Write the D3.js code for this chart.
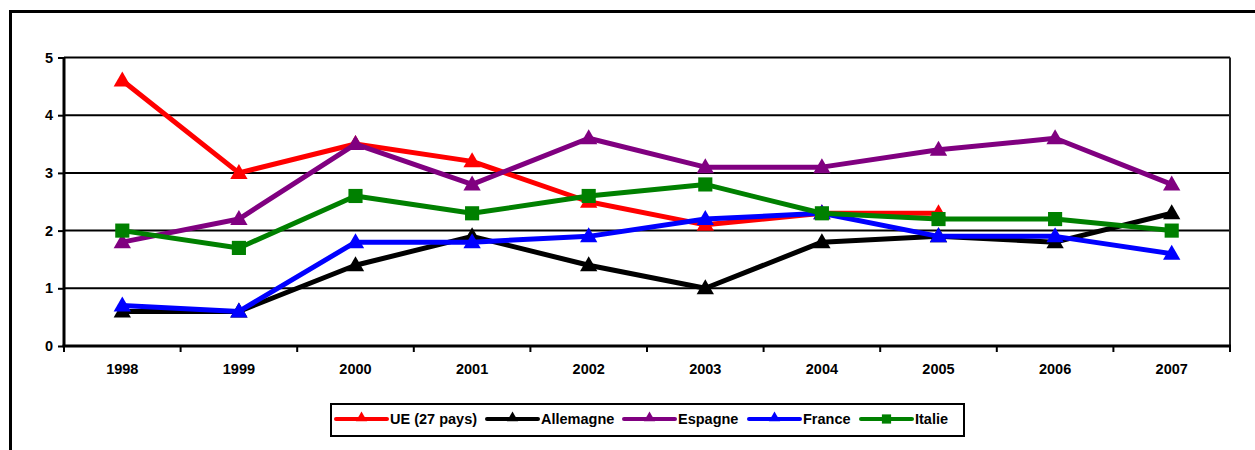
<!DOCTYPE html>
<html>
<head>
<meta charset="utf-8">
<script src="https://cdn.jsdelivr.net/npm/d3@7"></script>
<style>
  html, body { margin: 0; padding: 0; background: #fff; }
  svg { display: block; font-family: Arial, "Liberation Sans", sans-serif; }
</style>
</head>
<body>
<svg id="chart" width="1255" height="450"></svg>
<script>
// Années et séries (taux annuels)
const years = ["1998", "1999", "2000", "2001", "2002", "2003", "2004", "2005", "2006", "2007"];
const ue        = [4.6, 3.0, 3.5, 3.2, 2.5, 2.1, 2.3, 2.3, null, null];
const allemagne = [0.6, 0.6, 1.4, 1.9, 1.4, 1.0, 1.8, 1.9, 1.8, 2.3];
const espagne   = [1.8, 2.2, 3.5, 2.8, 3.6, 3.1, 3.1, 3.4, 3.6, 2.8];
const france    = [0.7, 0.6, 1.8, 1.8, 1.9, 2.2, 2.3, 1.9, 1.9, 1.6];
const italie    = [2.0, 1.7, 2.6, 2.3, 2.6, 2.8, 2.3, 2.2, 2.2, 2.0];
const yTicks    = [0, 1, 2, 3, 4, 5];

const series = [
  { name: "UE (27 pays)", values: ue,        color: "#ff0000", symbol: "triangle" },
  { name: "Allemagne",    values: allemagne, color: "#000000", symbol: "triangle" },
  { name: "Espagne",      values: espagne,   color: "#800080", symbol: "triangle" },
  { name: "France",       values: france,    color: "#0000ff", symbol: "triangle" },
  { name: "Italie",       values: italie,    color: "#008000", symbol: "square" }
];

const FONT = 14.5;
const svg = d3.select("#chart");

// Cadre extérieur
svg.append("rect")
  .attr("x", 10.5).attr("y", 11.5)
  .attr("width", 1260).attr("height", 460)
  .attr("fill", "#fff").attr("stroke", "#000").attr("stroke-width", 3);

const plot = { left: 64, right: 1230, top: 57.5, bottom: 346 };

const x = d3.scaleBand().domain(years).range([plot.left, plot.right]);
const y = d3.scaleLinear().domain([0, 5]).range([plot.bottom, plot.top]);

// Lignes de quadrillage horizontales
svg.append("g")
  .selectAll("line")
  .data(yTicks.filter(d => d > 0))
  .join("line")
  .attr("x1", plot.left).attr("x2", plot.right)
  .attr("y1", d => y(d)).attr("y2", d => y(d))
  .attr("stroke", "#000").attr("stroke-width", 2);

// Bord droit de la zone de tracé
svg.append("line")
  .attr("x1", plot.right).attr("x2", plot.right)
  .attr("y1", plot.top).attr("y2", plot.bottom)
  .attr("stroke", "#222").attr("stroke-width", 2);

// Axe Y
const yAxis = svg.append("g")
  .attr("transform", `translate(${plot.left},0)`)
  .call(d3.axisLeft(y).tickValues(yTicks).tickFormat(d3.format("d")).tickSize(6).tickPadding(5));
yAxis.select(".domain").attr("stroke", "#000").attr("stroke-width", 3)
  .attr("d", `M0,${plot.top}V${plot.bottom}`);
yAxis.selectAll(".tick line").attr("stroke", "#000").attr("stroke-width", 2);
yAxis.selectAll(".tick text")
  .attr("font-size", FONT).attr("font-weight", "bold").attr("fill", "#000")
  .attr("font-family", "Arial, 'Liberation Sans', sans-serif");

// Axe X avec graduations aux limites des catégories
const xAxis = svg.append("g")
  .attr("transform", `translate(0,${plot.bottom})`);
xAxis.append("line")
  .attr("x1", plot.left - 1.5).attr("x2", plot.right + 1)
  .attr("stroke", "#000").attr("stroke-width", 3);
xAxis.selectAll("line.tick")
  .data(years.concat(["end"]))
  .join("line")
  .attr("class", "tick")
  .attr("x1", (d, i) => i < years.length ? x(d) : plot.right)
  .attr("x2", (d, i) => i < years.length ? x(d) : plot.right)
  .attr("y1", 0).attr("y2", 6)
  .attr("stroke", "#000").attr("stroke-width", 2);
xAxis.selectAll("text")
  .data(years)
  .join("text")
  .attr("x", d => x(d) + x.bandwidth() / 2)
  .attr("y", 28)
  .attr("text-anchor", "middle")
  .attr("font-size", FONT).attr("font-weight", "bold").attr("fill", "#000")
  .text(d => d);

// Séries
const line = d3.line()
  .defined(d => d.v !== null)
  .x(d => x(d.year) + x.bandwidth() / 2)
  .y(d => y(d.v));

const triangle = d3.symbol().type(d3.symbolTriangle).size(130);
const square = d3.symbol().type(d3.symbolSquare).size(200);

series.forEach(s => {
  const pts = years.map((yr, i) => ({ year: yr, v: s.values[i] }));
  const g = svg.append("g");
  g.append("path")
    .datum(pts)
    .attr("d", line)
    .attr("fill", "none")
    .attr("stroke", s.color)
    .attr("stroke-width", 5)
    .attr("stroke-linejoin", "round");
  g.selectAll("path.marker")
    .data(pts.filter(d => d.v !== null))
    .join("path")
    .attr("class", "marker")
    .attr("d", s.symbol === "square" ? square() : triangle())
    .attr("transform", d => `translate(${x(d.year) + x.bandwidth() / 2},${y(d.v) + (s.symbol === "square" ? 0 : 1)})`)
    .attr("fill", s.color);
});

// Légende
const legend = svg.append("g");
legend.append("rect")
  .attr("x", 331).attr("y", 404)
  .attr("width", 633).attr("height", 32)
  .attr("fill", "#fff").attr("stroke", "#000").attr("stroke-width", 2);

const legendX = [336, 487, 624, 749, 861];
const legTri = d3.symbol().type(d3.symbolTriangle).size(55);
const legSq = d3.symbol().type(d3.symbolSquare).size(85);
series.forEach((s, i) => {
  const lx = legendX[i];
  const g = legend.append("g").attr("transform", `translate(${lx},419)`);
  g.append("line")
    .attr("x1", 0).attr("x2", 51)
    .attr("stroke", s.color).attr("stroke-width", 4).attr("stroke-linecap", "round");
  g.append("path")
    .attr("d", s.symbol === "square" ? legSq() : legTri())
    .attr("transform", `translate(25.5,${s.symbol === "square" ? 0 : -1})`)
    .attr("fill", s.color);
  g.append("text")
    .attr("x", 54).attr("y", 5)
    .attr("font-size", FONT).attr("font-weight", "bold").attr("fill", "#000")
    .text(s.name);
});
</script>
</body>
</html>
